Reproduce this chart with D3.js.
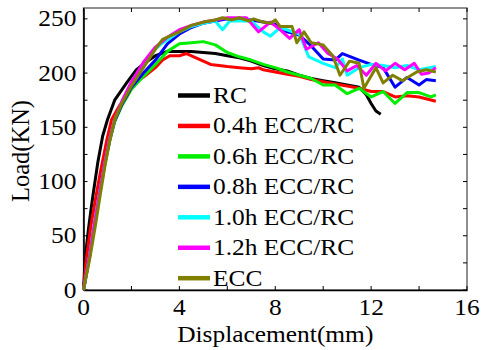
<!DOCTYPE html>
<html>
<head>
<meta charset="utf-8">
<script src="https://cdn.jsdelivr.net/npm/d3@7"></script>
<style>
  body { margin: 0; background: #fff; }
  text { font-family: "Liberation Serif"; fill: #000; }
</style>
</head>
<body>
<svg id="chart" width="484" height="350"></svg>
<script>
// Load-displacement curves, [displacement (mm), load (kN)]
const seriesNames = ["RC", "0.4h ECC/RC", "0.6h ECC/RC", "0.8h ECC/RC", "1.0h ECC/RC", "1.2h ECC/RC", "ECC"];
const seriesColors = ["#000000", "#ff0000", "#00ee00", "#0000ff", "#00ffff", "#ff00ff", "#808000"];

const rc = [[0,0],[0.05,20],[0.1,35],[0.2,55],[0.3,72],[0.4,88],[0.5,103],[0.6,118],[0.7,130],[0.8,142],[1.0,157],[1.3,175],[1.8,191],[2.2,203],[2.6,210],[3.0,216],[3.5,220],[4.0,220],[4.5,220],[5.0,219],[5.5,218],[6.0,216],[6.5,214],[7.0,211],[7.5,207],[8.0,204],[8.5,202],[9.0,198],[9.5,195],[10.0,193],[10.5,191],[11.0,189],[11.5,187],[11.8,180],[12.0,172],[12.2,165],[12.4,162]];
const ecc04 = [[0,0],[0.13,31],[0.3,58],[0.5,84],[0.7,108],[0.97,138],[1.17,157],[1.5,170],[1.8,178],[2.0,186],[2.3,193],[2.6,198],[3.0,205],[3.3,212],[3.6,216],[4.0,216],[4.3,218],[4.6,215],[5.0,211],[5.3,208],[6.0,206],[6.5,205],[7.0,204],[7.3,205],[7.5,203],[8.0,201],[8.5,199],[9.0,197],[9.5,194],[10.0,192],[10.5,190],[11.0,188],[11.5,186],[12.0,183],[12.5,183],[13.0,178],[13.5,179],[14.0,178],[14.7,174]];
const ecc06 = [[0,0],[0.25,30],[0.5,65],[0.7,92],[0.9,117],[1.1,138],[1.3,155],[1.6,170],[2.0,185],[2.5,197],[3.0,208],[3.5,220],[4.0,227],[4.5,228],[5.0,229],[5.5,226],[6.0,219],[6.5,215],[7.0,212],[7.5,208],[8.0,205],[8.5,201],[9.0,198],[9.5,195],[10.0,189],[10.5,189],[11.0,181],[11.5,186],[12.0,178],[12.5,183],[13.0,172],[13.5,182],[14.0,182],[14.5,178],[14.7,180]];
const ecc08 = [[0,0],[0.25,31],[0.5,66],[0.7,93],[0.9,118],[1.1,139],[1.3,156],[1.6,171],[2.0,187],[2.5,200],[3.0,212],[3.5,227],[4.0,236],[4.5,242],[5.0,246],[5.5,248],[6.0,250],[7.0,249],[7.5,247],[8.0,245],[8.5,238],[9.0,235],[9.5,225],[10.0,213],[10.5,212],[10.8,218],[11.5,212],[12.0,208],[12.5,205],[13.0,187],[13.5,196],[14.0,189],[14.3,194],[14.7,193]];
const ecc10 = [[0,0],[0.25,31],[0.5,66],[0.7,93],[0.9,118],[1.1,140],[1.3,157],[1.6,173],[2.0,190],[2.5,207],[3.0,222],[3.2,226],[4.0,238],[4.5,243],[5.0,246],[5.5,248],[5.8,240],[6.1,248],[7.0,248],[7.5,238],[7.8,234],[8.2,242],[9.0,236],[9.4,215],[10.0,209],[10.5,205],[10.8,213],[11.0,198],[11.5,205],[12.0,208],[12.5,207],[13.0,205],[13.5,207],[14.0,203],[14.7,206]];
const ecc12 = [[0,0],[0.25,31],[0.5,66],[0.7,93],[0.9,118],[1.1,140],[1.3,157],[1.6,174],[2.0,192],[2.5,210],[3.0,224],[3.5,233],[4.0,240],[4.5,244],[5.0,247],[5.5,249],[6.0,251],[6.8,251],[7.3,238],[7.8,247],[8.2,240],[8.6,232],[9.0,240],[9.3,222],[9.8,228],[10.2,218],[10.6,213],[11.0,202],[11.4,207],[11.8,198],[12.2,209],[12.6,202],[13.0,209],[13.4,203],[13.8,209],[14.1,199],[14.4,200],[14.7,205]];
const ecc = [[0,0],[0.27,30],[0.5,60],[0.7,88],[0.9,115],[1.1,138],[1.3,157],[1.6,172],[2.0,188],[2.5,205],[3.0,222],[3.3,231],[3.6,234],[4.0,238],[4.5,244],[5.0,247],[5.5,249],[5.8,251],[6.2,249],[6.5,251],[6.9,248],[7.1,250],[7.5,247],[7.8,246],[8.0,249],[8.2,243],[8.7,243],[8.9,228],[9.2,238],[9.5,228],[10.0,226],[10.4,216],[10.7,198],[11.1,211],[11.5,209],[11.7,186],[12.2,205],[12.5,191],[12.9,198],[13.3,193],[13.9,201],[14.3,203],[14.7,201]];
const allSeries = [rc, ecc04, ecc06, ecc08, ecc10, ecc12, ecc];

const xTicks = [0, 4, 8, 12, 16];
const yTicks = [0, 50, 100, 150, 200, 250];

const margin = { top: 8, right: 17, bottom: 60, left: 83.5 };
const width = 484 - margin.left - margin.right;
const height = 350 - margin.top - margin.bottom;
const stretch = 1.13; // text in the figure is a bit wider than plain Times

const svg = d3.select("#chart");
const g = svg.append("g").attr("transform", `translate(${margin.left},${margin.top})`);

const x = d3.scaleLinear().domain([0, 16]).range([0, width]);
const y = d3.scaleLinear().domain([0, 260]).range([height, 0]);

// helper for horizontally stretched text
function label(parent, tx, ty, str, size, anchor) {
  return parent.append("text")
    .attr("transform", `translate(${tx},${ty}) scale(${stretch},1)`)
    .attr("text-anchor", anchor)
    .style("font-size", size + "px")
    .text(str);
}

// Frame (top / right)
g.append("rect").attr("width", width).attr("height", height)
  .attr("fill", "none").attr("stroke", "#555").attr("stroke-width", 1.3);

// Inward ticks on all four sides
const xMinor = d3.range(0, 16.01, 2);
const yMinor = d3.range(0, 260, 25);
xMinor.forEach(v => {
  g.append("line").attr("x1", x(v)).attr("x2", x(v)).attr("y1", height).attr("y2", height - 4).attr("stroke", "#000");
  g.append("line").attr("x1", x(v)).attr("x2", x(v)).attr("y1", 0).attr("y2", 4).attr("stroke", "#000");
});
yMinor.forEach(v => {
  g.append("line").attr("y1", y(v)).attr("y2", y(v)).attr("x1", 0).attr("x2", 4).attr("stroke", "#000");
  g.append("line").attr("y1", y(v)).attr("y2", y(v)).attr("x1", width).attr("x2", width - 4).attr("stroke", "#000");
});

// Axis lines
g.append("g").attr("transform", `translate(0,${height})`)
  .call(d3.axisBottom(x).tickValues([]).tickSizeOuter(0))
  .call(a => a.select(".domain").attr("stroke", "#000").attr("stroke-width", 1.6));
g.append("g")
  .call(d3.axisLeft(y).tickValues([]).tickSizeOuter(0))
  .call(a => a.select(".domain").attr("stroke", "#000").attr("stroke-width", 1.6));

// Tick labels
xTicks.forEach(v => label(g, x(v), height + 25, v, 22.5, "middle"));
yTicks.forEach(v => label(g, -7, y(v) + 7.5, v, 22.5, "end"));

// Axis titles
label(svg, margin.left + x(8), 341.5, "Displacement(mm)", 22.5, "middle");
svg.append("text").attr("transform", `translate(29,${margin.top + height / 2 + 2}) rotate(-90)`)
  .attr("text-anchor", "middle").style("font-size", "24.5px").text("Load(KN)");

// Curves
const line = d3.line().x(d => x(d[0])).y(d => y(d[1]));
allSeries.forEach((s, i) => {
  g.append("path").datum(s).attr("d", line)
    .attr("fill", "none").attr("stroke", seriesColors[i])
    .attr("stroke-width", 3).attr("stroke-linejoin", "round");
});

// Legend
const legend = svg.append("g").attr("transform", "translate(178,95.5)");
seriesNames.forEach((name, i) => {
  const row = legend.append("g").attr("transform", `translate(0,${i * 30.45})`);
  row.append("line").attr("x1", 0).attr("x2", 32).attr("y1", 0).attr("y2", 0)
    .attr("stroke", seriesColors[i]).attr("stroke-width", 4.5);
  label(row, 35, 7.5, name, 22.5, "start");
});
</script>
</body>
</html>
